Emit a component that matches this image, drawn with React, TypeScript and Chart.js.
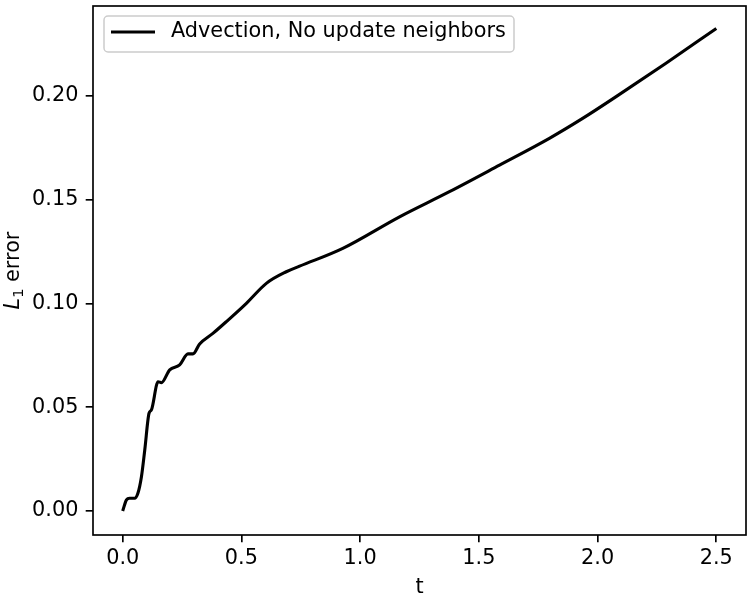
import React, { useEffect, useRef } from "react";
import { Chart, registerables } from "chart.js";

Chart.register(...registerables);

const tValues = [
  0, 0.016, 0.029, 0.05, 0.064, 0.079, 0.093, 0.111, 0.121, 0.149, 0.163, 0.198,
  0.24, 0.275, 0.296, 0.324, 0.38, 0.436, 0.521, 0.605, 0.689, 0.745, 0.927,
  1.166, 1.376, 1.587, 1.797, 1.937, 2.078, 2.288, 2.5,
];
const errValues = [
  0, 0.0053, 0.0061, 0.0061, 0.0085, 0.0165, 0.0294, 0.0471, 0.0487, 0.0623, 0.0618, 0.068,
  0.0704, 0.0757, 0.0757, 0.0805, 0.0856, 0.0912, 0.1001, 0.1097, 0.1153, 0.118, 0.1266,
  0.1418, 0.1539, 0.1667, 0.1796, 0.1892, 0.1997, 0.2158, 0.2326,
];
const xTickValues = [0, 0.5, 1.0, 1.5, 2.0, 2.5];
const yTickValues = [0, 0.05, 0.1, 0.15, 0.2];
const seriesLabel = "Advection, No update neighbors";
const xTitle = "t";
const yTitleLetter = "L";
const yTitleSub = "1";
const yTitleRest = " error";

const FONT_FAMILY = "'DejaVu Sans', sans-serif";
const FS = 20.8;

const overlayPlugin = {
  id: "overlay",
  afterDraw(chart: any) {
    const ctx = chart.ctx as CanvasRenderingContext2D;
    const { left, top, right, bottom } = chart.chartArea;
    ctx.save();
    // axes frame
    ctx.strokeStyle = "#000";
    ctx.lineWidth = 1.67;
    ctx.strokeRect(left, top, right - left, bottom - top);

    // legend
    const bx = left + 11;
    const by = top + 10;
    const bw = 410;
    const bh = 36;
    const r = 4;
    ctx.beginPath();
    ctx.moveTo(bx + r, by);
    ctx.lineTo(bx + bw - r, by);
    ctx.arcTo(bx + bw, by, bx + bw, by + r, r);
    ctx.lineTo(bx + bw, by + bh - r);
    ctx.arcTo(bx + bw, by + bh, bx + bw - r, by + bh, r);
    ctx.lineTo(bx + r, by + bh);
    ctx.arcTo(bx, by + bh, bx, by + bh - r, r);
    ctx.lineTo(bx, by + r);
    ctx.arcTo(bx, by, bx + r, by, r);
    ctx.closePath();
    ctx.fillStyle = "rgba(255,255,255,0.8)";
    ctx.fill();
    ctx.strokeStyle = "#cccccc";
    ctx.lineWidth = 1.5;
    ctx.stroke();

    const ly = by + 16;
    ctx.beginPath();
    ctx.moveTo(left + 18, ly);
    ctx.lineTo(left + 62, ly);
    ctx.strokeStyle = "#000";
    ctx.lineWidth = 3.1;
    ctx.stroke();
    ctx.fillStyle = "#000";
    ctx.font = `${FS}px ${FONT_FAMILY}`;
    ctx.textBaseline = "middle";
    ctx.textAlign = "left";
    ctx.fillText(seriesLabel, left + 78, ly);

    // x title
    ctx.textAlign = "center";
    ctx.textBaseline = "alphabetic";
    ctx.fillText(xTitle, (left + right) / 2, 593);

    // y title (rotated, mixed styles)
    const italicFont = `italic ${FS}px ${FONT_FAMILY}`;
    const normalFont = `${FS}px ${FONT_FAMILY}`;
    const subFont = `${FS * 0.7}px ${FONT_FAMILY}`;
    ctx.font = italicFont;
    const wL = ctx.measureText(yTitleLetter).width;
    ctx.font = subFont;
    const w1 = ctx.measureText(yTitleSub).width;
    ctx.font = normalFont;
    const wR = ctx.measureText(yTitleRest).width;
    const total = wL + w1 + wR;
    ctx.translate(19, (top + bottom) / 2);
    ctx.rotate(-Math.PI / 2);
    ctx.textAlign = "left";
    let x = -total / 2;
    ctx.font = italicFont;
    ctx.fillText(yTitleLetter, x, 0);
    x += wL;
    ctx.font = subFont;
    ctx.fillText(yTitleSub, x, 4);
    x += w1;
    ctx.font = normalFont;
    ctx.fillText(yTitleRest, x, 0);
    ctx.restore();
  },
};

export default function App() {
  const canvasRef = useRef<HTMLCanvasElement | null>(null);

  useEffect(() => {
    if (!canvasRef.current) return;
    const points = tValues.map((t, i) => ({ x: t, y: errValues[i] }));
    const tickFont = { family: FONT_FAMILY, size: FS };
    const chart = new Chart(canvasRef.current, {
      type: "line",
      data: {
        datasets: [
          {
            label: seriesLabel,
            data: points,
            borderColor: "#000",
            borderWidth: 3.1,
            pointRadius: 0,
            fill: false,
            cubicInterpolationMode: "monotone",
          },
        ],
      },
      options: {
        responsive: false,
        animation: false,
        layout: { padding: { top: 6, right: 4, left: 0, bottom: 0 } },
        plugins: {
          legend: { display: false },
          tooltip: { enabled: false },
        },
        scales: {
          x: {
            type: "linear",
            min: -0.125,
            max: 2.625,
            border: { display: false },
            grid: {
              display: true,
              drawOnChartArea: false,
              drawTicks: true,
              tickLength: 7.3,
              color: "#000",
              lineWidth: 1.67,
            },
            ticks: {
              font: tickFont,
              color: "#000",
              padding: 4,
              maxRotation: 0,
              autoSkip: false,
              callback: (v: any) => Number(v).toFixed(1),
            },
            afterBuildTicks: (scale: any) => {
              scale.ticks = xTickValues.map((value) => ({ value }));
            },
            afterFit: (scale: any) => {
              scale.height = 65;
              scale.paddingLeft = 0;
              scale.paddingRight = 0;
            },
          },
          y: {
            type: "linear",
            min: -0.0116,
            max: 0.2434,
            border: { display: false },
            grid: {
              display: true,
              drawOnChartArea: false,
              drawTicks: true,
              tickLength: 7.3,
              color: "#000",
              lineWidth: 1.67,
            },
            ticks: {
              font: tickFont,
              color: "#000",
              padding: 7.3,
              autoSkip: false,
              callback: (v: any) => Number(v).toFixed(2),
            },
            afterBuildTicks: (scale: any) => {
              scale.ticks = yTickValues.map((value) => ({ value }));
            },
            afterFit: (scale: any) => {
              scale.width = 93;
              scale.paddingTop = 0;
              scale.paddingBottom = 0;
            },
          },
        },
      },
      plugins: [overlayPlugin],
    });
    return () => chart.destroy();
  }, []);

  return (
    <div style={{ position: "absolute", left: 0, top: 0, width: 750, height: 600, background: "#fff" }}>
      <canvas ref={canvasRef} width={750} height={600} style={{ width: 750, height: 600 }} />
    </div>
  );
}
